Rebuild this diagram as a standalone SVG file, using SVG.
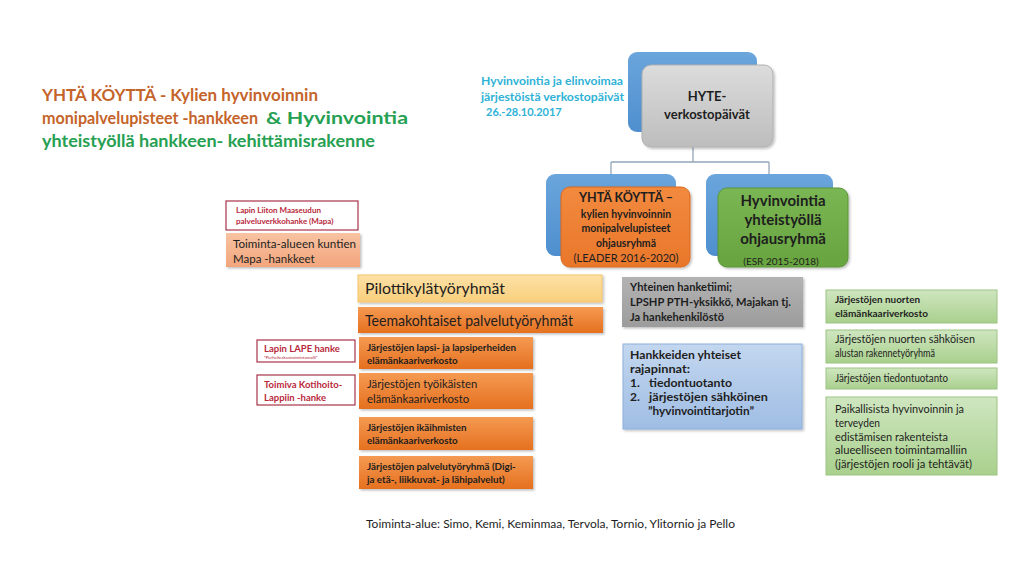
<svg xmlns="http://www.w3.org/2000/svg" width="1024" height="576" viewBox="0 0 1024 576">
<defs>
<linearGradient id="gBlue" x1="0" y1="0" x2="0" y2="1"><stop offset="0" stop-color="#6aa5dc"/><stop offset="1" stop-color="#4f8fcf"/></linearGradient>
<linearGradient id="gGray" x1="0" y1="0" x2="0" y2="1"><stop offset="0" stop-color="#dcdcdc"/><stop offset="1" stop-color="#bdbdbd"/></linearGradient>
<linearGradient id="gOrange" x1="0" y1="0" x2="0" y2="1"><stop offset="0" stop-color="#f28a3e"/><stop offset="1" stop-color="#e9772b"/></linearGradient>
<linearGradient id="gGreen" x1="0" y1="0" x2="0" y2="1"><stop offset="0" stop-color="#7bb654"/><stop offset="1" stop-color="#67a43f"/></linearGradient>
<linearGradient id="gSalmon" x1="0" y1="0" x2="0" y2="1"><stop offset="0" stop-color="#f8c3a2"/><stop offset="1" stop-color="#f2a57c"/></linearGradient>
<linearGradient id="gYellow" x1="0" y1="0" x2="0" y2="1"><stop offset="0" stop-color="#fde1a6"/><stop offset="1" stop-color="#f9cf7c"/></linearGradient>
<linearGradient id="gOr2" x1="0" y1="0" x2="0" y2="1"><stop offset="0" stop-color="#f59a52"/><stop offset="1" stop-color="#e5701f"/></linearGradient>
<linearGradient id="gDGray" x1="0" y1="0" x2="0" y2="1"><stop offset="0" stop-color="#b3b3b3"/><stop offset="1" stop-color="#9c9c9c"/></linearGradient>
<linearGradient id="gLBlue" x1="0" y1="0" x2="0" y2="1"><stop offset="0" stop-color="#c3d7ef"/><stop offset="1" stop-color="#9fbde4"/></linearGradient>
<linearGradient id="gLGreen" x1="0" y1="0" x2="0" y2="1"><stop offset="0" stop-color="#cfe6c0"/><stop offset="1" stop-color="#a9d08d"/></linearGradient>
<filter id="sh" x="-10%" y="-10%" width="125%" height="130%"><feDropShadow dx="1.5" dy="1.5" stdDeviation="1.2" flood-color="#000" flood-opacity="0.25"/></filter>
</defs>
<style>
text{font-family:Lato,"Liberation Sans","DejaVu Sans",sans-serif;fill:#1e1e1e}
.b{font-weight:bold}
.conn{fill:none;stroke:#93a7b9;stroke-width:1.3}
.redbox{fill:#fff;stroke:#a8344a;stroke-width:1.2}
.redt{fill:#b8283a;font-weight:bold}
.orbox{fill:url(#gOr2);filter:url(#sh)}
.lg{fill:url(#gLGreen);stroke:#9cc383;stroke-width:1}
</style>
<rect width="1024" height="576" fill="#fff"/>

<g id="title">
<text x="42" y="101" class="b" font-size="17" style="fill:#c5642a" textLength="276" lengthAdjust="spacingAndGlyphs">YHTÄ KÖYTTÄ - Kylien hyvinvoinnin</text>
<text x="42" y="124" class="b" font-size="17" style="fill:#c5642a" textLength="216" lengthAdjust="spacingAndGlyphs">monipalvelupisteet -hankkeen</text>
<text x="266" y="124" class="b" font-size="17" style="fill:#26a052" textLength="142" lengthAdjust="spacingAndGlyphs">&amp; Hyvinvointia</text>
<text x="42" y="147" class="b" font-size="17" style="fill:#26a052" textLength="333" lengthAdjust="spacingAndGlyphs">yhteistyöllä hankkeen- kehittämisrakenne</text>
</g>

<g id="event-label">
<text x="481" y="85" class="b" font-size="11" style="fill:#2eb2d6" textLength="142" lengthAdjust="spacingAndGlyphs">Hyvinvointia ja elinvoimaa</text>
<text x="481" y="101" class="b" font-size="11" style="fill:#2eb2d6" textLength="143" lengthAdjust="spacingAndGlyphs">järjestöistä verkostopäivät</text>
<text x="486" y="116" class="b" font-size="11" style="fill:#2eb2d6">26.-28.10.2017</text>
</g>

<g id="connectors">
<path class="conn" d="M693 147 V162 M611 162 H769 M611 162 V174 M769 162 V174"/>
</g>

<g id="hyte">
<rect x="628" y="52" width="129" height="80" rx="9" fill="url(#gBlue)"/>
<rect x="642" y="65" width="131" height="82" rx="9" fill="url(#gGray)" stroke="#b0b0b0" filter="url(#sh)"/>
<text x="707" y="101" text-anchor="middle" class="b" font-size="13">HYTE-</text>
<text x="707" y="119" text-anchor="middle" class="b" font-size="13">verkostopäivät</text>
</g>

<g id="yhta-ohjaus">
<rect x="546" y="174" width="130" height="82" rx="9" fill="url(#gBlue)"/>
<rect x="561" y="187" width="129" height="80" rx="9" fill="url(#gOrange)" stroke="#d9691f" filter="url(#sh)"/>
<text x="626" y="202" text-anchor="middle" class="b" font-size="12.5">YHTÄ KÖYTTÄ –</text>
<text x="626" y="218" text-anchor="middle" class="b" font-size="10.5">kylien hyvinvoinnin</text>
<text x="626" y="232" text-anchor="middle" class="b" font-size="10.5">monipalvelupisteet</text>
<text x="626" y="247" text-anchor="middle" class="b" font-size="10.5">ohjausryhmä</text>
<text x="626" y="262" text-anchor="middle" font-size="11">(LEADER 2016-2020)</text>
</g>

<g id="hyvinvointia-ohjaus">
<rect x="706" y="174" width="127" height="82" rx="9" fill="url(#gBlue)"/>
<rect x="718" y="188" width="130" height="79" rx="9" fill="url(#gGreen)" stroke="#5c9538" filter="url(#sh)"/>
<text x="783" y="206" text-anchor="middle" class="b" font-size="15">Hyvinvointia</text>
<text x="783" y="225" text-anchor="middle" class="b" font-size="15">yhteistyöllä</text>
<text x="783" y="244" text-anchor="middle" class="b" font-size="15">ohjausryhmä</text>
<text x="781" y="265" text-anchor="middle" font-size="10">(ESR 2015-2018)</text>
</g>

<g id="mapa">
<rect class="redbox" x="226" y="201" width="132" height="29"/>
<text x="236" y="213" class="redt" font-size="8">Lapin Liiton Maaseudun</text>
<text x="236" y="224" class="redt" font-size="8">palveluverkkohanke (Mapa)</text>
</g>

<g id="kuntien-mapa">
<rect x="226" y="233" width="134" height="34" fill="url(#gSalmon)" filter="url(#sh)"/>
<text x="233" y="248" font-size="11.5" textLength="123" lengthAdjust="spacingAndGlyphs">Toiminta-alueen kuntien</text>
<text x="233" y="263" font-size="11.5">Mapa -hankkeet</text>
</g>

<g id="pilotti">
<rect x="358" y="275" width="244" height="27" fill="url(#gYellow)" stroke="#f3c46c" filter="url(#sh)"/>
<text x="365" y="294" font-size="15" textLength="140" lengthAdjust="spacingAndGlyphs">Pilottikylätyöryhmät</text>
</g>

<g id="teema">
<rect x="358" y="307" width="245" height="26" fill="url(#gOr2)" filter="url(#sh)"/>
<text x="365" y="326" font-size="15" textLength="208" lengthAdjust="spacingAndGlyphs">Teemakohtaiset palvelutyöryhmät</text>
</g>

<g id="lape">
<rect class="redbox" x="257" y="340" width="98" height="22"/>
<text x="264" y="352" class="redt" font-size="9.5">Lapin LAPE hanke</text>
<text x="264" y="359" class="redt" font-size="4.5" style="font-weight:normal">”Perhekeskustoimintamalli”</text>
</g>

<g id="kotihoito">
<rect class="redbox" x="257" y="375" width="98" height="30"/>
<text x="264" y="388" class="redt" font-size="9.5">Toimiva  Kotihoito-</text>
<text x="264" y="401" class="redt" font-size="9.5">Lappiin -hanke</text>
</g>

<g id="lapsi">
<rect class="orbox" x="359" y="337" width="174" height="32"/>
<text x="367" y="351" class="b" font-size="9.8">Järjestöjen lapsi- ja lapsiperheiden</text>
<text x="367" y="364" class="b" font-size="9.8">elämänkaariverkosto</text>
</g>

<g id="tyoikaiset">
<rect class="orbox" x="359" y="373" width="174" height="36"/>
<text x="367" y="388" font-size="11.3">Järjestöjen työikäisten</text>
<text x="367" y="403" font-size="11.3">elämänkaariverkosto</text>
</g>

<g id="ikaihmiset">
<rect class="orbox" x="359" y="417" width="174" height="33"/>
<text x="367" y="431" class="b" font-size="9.8">Järjestöjen ikäihmisten</text>
<text x="367" y="444" class="b" font-size="9.8">elämänkaariverkosto</text>
</g>

<g id="palvelu">
<rect class="orbox" x="359" y="456" width="174" height="33"/>
<text x="367" y="470" class="b" font-size="9.8">Järjestöjen palvelutyöryhmä (Digi-</text>
<text x="367" y="483" class="b" font-size="9.8">ja etä-, liikkuvat- ja lähipalvelut)</text>
</g>

<g id="hanketiimi">
<rect x="622" y="277" width="181" height="50" fill="url(#gDGray)" filter="url(#sh)"/>
<text x="630" y="291" class="b" font-size="11" textLength="102" lengthAdjust="spacingAndGlyphs">Yhteinen hanketiimi;</text>
<text x="630" y="306" class="b" font-size="11" textLength="161" lengthAdjust="spacingAndGlyphs">LPSHP PTH-yksikkö, Majakan tj.</text>
<text x="630" y="321" class="b" font-size="11" textLength="94" lengthAdjust="spacingAndGlyphs">Ja hankehenkilöstö</text>
</g>

<g id="rajapinnat">
<rect x="623" y="344" width="179" height="85" fill="url(#gLBlue)" stroke="#8db0dc" filter="url(#sh)"/>
<text x="630" y="359" class="b" font-size="12" textLength="111" lengthAdjust="spacingAndGlyphs">Hankkeiden yhteiset</text>
<text x="630" y="373" class="b" font-size="12" textLength="60" lengthAdjust="spacingAndGlyphs">rajapinnat:</text>
<text x="630" y="387" class="b" font-size="12">1.</text>
<text x="649" y="387" class="b" font-size="12" textLength="83" lengthAdjust="spacingAndGlyphs">tiedontuotanto</text>
<text x="630" y="401" class="b" font-size="12">2.</text>
<text x="649" y="401" class="b" font-size="12" textLength="119" lengthAdjust="spacingAndGlyphs">järjestöjen sähköinen</text>
<text x="648" y="415" class="b" font-size="12" textLength="106" lengthAdjust="spacingAndGlyphs">”hyvinvointitarjotin”</text>
</g>

<g id="nuorten">
<rect class="lg" x="826" y="290" width="171" height="33"/>
<text x="835" y="303" class="b" font-size="10" textLength="85" lengthAdjust="spacingAndGlyphs">Järjestöjen nuorten</text>
<text x="835" y="317" class="b" font-size="10" textLength="93" lengthAdjust="spacingAndGlyphs">elämänkaariverkosto</text>
</g>

<g id="alusta">
<rect class="lg" x="826" y="330" width="171" height="33"/>
<text x="835" y="343" font-size="10.5" textLength="140" lengthAdjust="spacingAndGlyphs">Järjestöjen nuorten sähköisen</text>
<text x="835" y="357" font-size="10.5" textLength="100" lengthAdjust="spacingAndGlyphs">alustan rakennetyöryhmä</text>
</g>

<g id="tiedontuotanto">
<rect class="lg" x="826" y="368" width="171" height="21"/>
<text x="835" y="382" font-size="10.5" textLength="113" lengthAdjust="spacingAndGlyphs">Järjestöjen tiedontuotanto</text>
</g>

<g id="toimintamalli">
<rect class="lg" x="826" y="397" width="171" height="78"/>
<text x="835" y="413" font-size="12" textLength="129" lengthAdjust="spacingAndGlyphs">Paikallisista hyvinvoinnin ja</text>
<text x="835" y="427" font-size="12" textLength="45" lengthAdjust="spacingAndGlyphs">terveyden</text>
<text x="835" y="441" font-size="12" textLength="113" lengthAdjust="spacingAndGlyphs">edistämisen rakenteista</text>
<text x="835" y="454" font-size="12" textLength="132" lengthAdjust="spacingAndGlyphs">alueelliseen toimintamalliin</text>
<text x="835" y="468" font-size="12" textLength="137" lengthAdjust="spacingAndGlyphs">(järjestöjen rooli ja tehtävät)</text>
</g>

<g id="alue">
<text x="366" y="528" font-size="12" textLength="369" lengthAdjust="spacingAndGlyphs">Toiminta-alue: Simo, Kemi, Keminmaa, Tervola, Tornio, Ylitornio ja Pello</text>
</g>
</svg>
